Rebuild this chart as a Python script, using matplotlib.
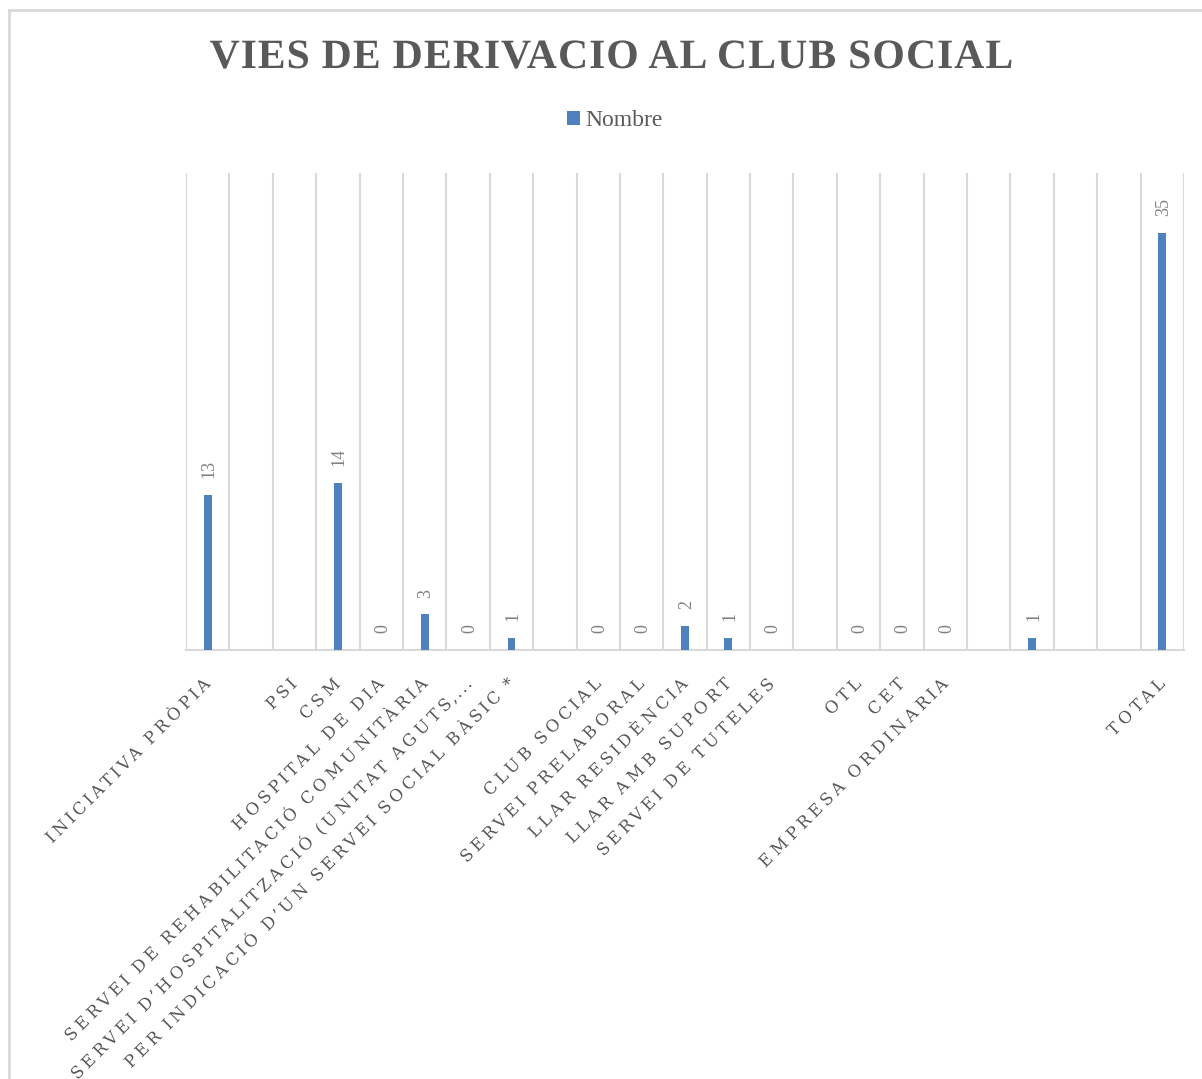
import matplotlib
matplotlib.use("Agg")
import matplotlib.pyplot as plt
import numpy as np
from matplotlib.lines import Line2D
from matplotlib.patches import Patch
from matplotlib.patheffects import AbstractPathEffect
from matplotlib.path import Path

title = "VIES DE DERIVACIO AL CLUB SOCIAL"
series_name = "Nombre"
categories = [
    "INICIATIVA PRÒPIA", "", "PSI", "CSM", "HOSPITAL DE DIA",
    "SERVEI DE REHABILITACIÓ COMUNITÀRIA",
    "SERVEI D\u2019HOSPITALITZACIÓ (UNITAT AGUTS,...",
    "PER INDICACIÓ D\u2019UN SERVEI SOCIAL BÀSIC *", "",
    "CLUB SOCIAL", "SERVEI PRELABORAL", "LLAR RESIDÈNCIA", "LLAR AMB SUPORT",
    "SERVEI DE TUTELES", "", "OTL", "CET", "EMPRESA ORDINARIA",
    "", "", "", "", "TOTAL",
]
values = [13, None, None, 14, 0, 3, 0, 1, None, 0, 0, 2, 1, 0,
          None, 0, 0, 0, None, 1, None, None, 35]


class LetterSpacing(AbstractPathEffect):
    """Spread glyphs of a single text object apart (letter tracking)."""

    def __init__(self, k, align="right"):
        super().__init__()
        self.k = k
        self.align = align

    def draw_path(self, renderer, gc, tpath, affine, rgbFace=None):
        verts = np.array(tpath.vertices, dtype=float)
        codes = tpath.codes
        if codes is None or len(verts) == 0:
            renderer.draw_path(gc, tpath, affine, rgbFace)
            return
        starts = list(np.nonzero(codes == Path.MOVETO)[0]) + [len(codes)]
        segs = []
        for a, b in zip(starts[:-1], starts[1:]):
            m = codes[a:b] != Path.CLOSEPOLY
            xs = verts[a:b][m, 0]
            segs.append((a, b, xs.min(), xs.max()))
        centers = []
        for (a, b, x0, x1) in segs:
            c = 0.5 * (x0 + x1)
            best = None
            for (a2, b2, y0, y1) in segs:
                if y0 - 1e-6 <= c <= y1 + 1e-6:
                    if best is None or (y1 - y0) > (best[1] - best[0]):
                        best = (y0, y1)
            centers.append(0.5 * (best[0] + best[1]))
        centers = np.array(centers)
        if self.align == "right":
            ref = centers.max()
        elif self.align == "center":
            ref = 0.5 * (centers.min() + centers.max())
        else:
            ref = centers.min()
        new = verts.copy()
        for (a, b, _, _), c in zip(segs, centers):
            new[a:b, 0] += self.k * (c - ref)
        renderer.draw_path(gc, Path(new, codes), affine, rgbFace)


W, H = 1202, 1079
fig = plt.figure(figsize=(W / 100, H / 100), dpi=100)
ax = fig.add_axes([186 / W, 1 - 650 / H, (1184 - 186) / W, (650 - 173) / H])

bar_color = "#4F81BD"
grid_color = "#D9D9D9"
text_color = "#595959"
label_color = "#808080"

x = np.arange(len(categories))
vals = np.array([np.nan if v is None else v for v in values], dtype=float)
ax.bar(x, np.nan_to_num(vals), width=0.18, color=bar_color, zorder=3)

ax.set_xlim(-0.5, len(categories) - 0.5)
ax.set_ylim(0, 40)

# vertical category gridlines
ax.set_xticks(np.arange(-0.5, len(categories), 1.0), minor=True)
ax.grid(which="minor", axis="x", color=grid_color, linewidth=1.5, zorder=0)
ax.tick_params(which="both", length=0)
ax.set_yticks([])
for s in ["top", "right", "left"]:
    ax.spines[s].set_visible(False)
ax.spines["bottom"].set_color(grid_color)
ax.spines["bottom"].set_linewidth(1.5)

ax.set_xticks(x)
ax.set_xticklabels(categories, rotation=45, ha="right", va="center",
                   rotation_mode="anchor", fontsize=12,
                   family=["DejaVu Serif"], color=text_color)
for t in ax.get_xticklabels():
    t.set_path_effects([LetterSpacing(0.33, "right")])
ax.tick_params(axis="x", pad=23)

# data labels
for xi, v in zip(x, vals):
    if np.isnan(v):
        continue
    ax.annotate(f"{int(v)}", (xi, v), xytext=(1, 12), textcoords="offset points",
                rotation=90, ha="center", va="bottom", fontsize=13,
                family=["Liberation Serif"], color=label_color)

ttl = fig.text(611 / W, 1 - 58 / H, title, ha="center", va="center", fontsize=30,
               family=["Liberation Serif"], fontweight="bold", color=text_color)
ttl.set_path_effects([LetterSpacing(0.04, "center")])

handles = [Patch(facecolor=bar_color, edgecolor="none")]
fig.legend(handles, [series_name], loc="center", bbox_to_anchor=(615 / W, 1 - 121 / H),
           frameon=False, prop={"family": "Liberation Serif", "size": 17},
           labelcolor=text_color, handlelength=0.55, handleheight=0.55,
           handletextpad=0.25, borderpad=0, borderaxespad=0)

# figure border (top and left)
fig.add_artist(Line2D([9 / W, 1], [1 - 10 / H, 1 - 10 / H], color=grid_color,
                      linewidth=2, transform=fig.transFigure))
fig.add_artist(Line2D([9 / W, 9 / W], [0, 1 - 10 / H], color=grid_color,
                      linewidth=2, transform=fig.transFigure))

fig.savefig("out.png", dpi=100, facecolor="white")
